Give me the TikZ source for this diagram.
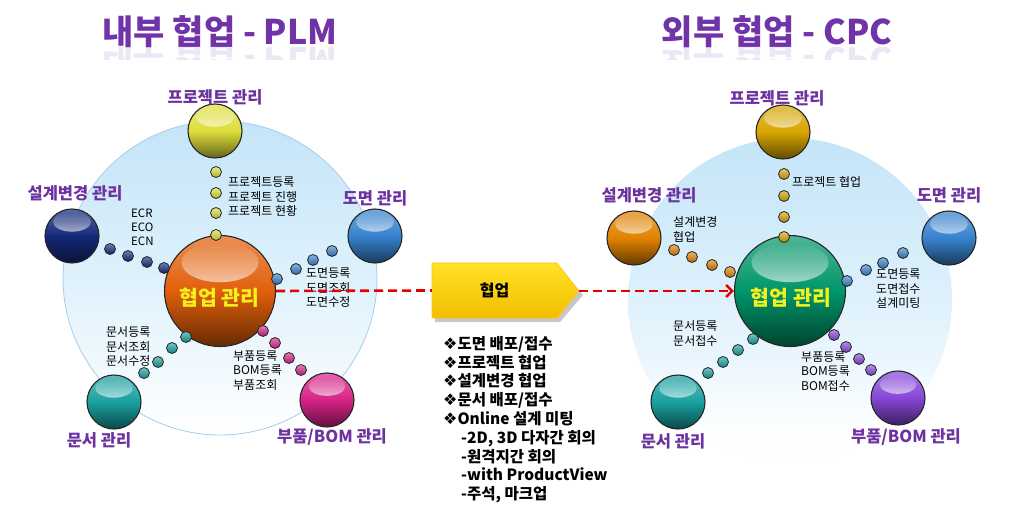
\documentclass[tikz,border=0pt]{standalone}
\usepackage{fontspec}
\setmainfont{Noto Sans CJK KR}
\newfontfamily\symf{DejaVu Sans}
\usetikzlibrary{arrows.meta,fadings,calc}
\definecolor{ttl}{RGB}{112,52,168}
\definecolor{lblc}{RGB}{110,50,160}
\definecolor{bgtop}{RGB}{196,229,248}
\definecolor{bgmid}{RGB}{222,241,252}
\definecolor{bgline}{RGB}{165,205,235}
\definecolor{cYel}{RGB}{222,222,60}
\definecolor{cNavy}{RGB}{20,40,120}
\definecolor{cBlue}{RGB}{55,130,205}
\definecolor{cOrg}{RGB}{225,95,10}
\definecolor{cTeal}{RGB}{25,160,160}
\definecolor{cPink}{RGB}{215,35,135}
\definecolor{cGold}{RGB}{215,165,0}
\definecolor{cOrg2}{RGB}{225,130,0}
\definecolor{cGreen}{RGB}{0,150,105}
\definecolor{cPurp}{RGB}{135,70,215}
\definecolor{gold1}{RGB}{255,226,40}
\definecolor{gold2}{RGB}{242,190,0}
\definecolor{cenTxt}{RGB}{245,240,30}
\newcommand\hilite[2]{\fill[white,opacity=.6,path fading=north] ($(#1.center)+(0,{-0.52*#2})$) ellipse [x radius={0.7*#2}, y radius={0.36*#2}];}
\newcommand\bul{{\symf\fontsize{16}{16}\selectfont ❖}}
\begin{document}
\begin{tikzpicture}[x=1pt,y=-1pt,
  ball/.style={circle, draw=black!85, line width=1.1pt, inner sep=0, minimum size=54pt,
     top color=#1!70!white, bottom color=#1!45!black, middle color=#1},
  cball/.style={ball=#1, minimum size=111pt},
  dot/.style={circle, draw=black!85, line width=0.8pt, inner sep=0, minimum size=11pt,
     top color=#1!60!white, bottom color=#1!80!black},
  lbl/.style={font=\bfseries\fontsize{16.5}{19}\selectfont, text=lblc, inner sep=0},
  ttlst/.style={font=\bfseries\fontsize{34}{36}\selectfont, text=ttl, inner sep=0},
  sm/.style={font=\fontsize{12}{14.6}\selectfont, align=left, anchor=north west, inner sep=0},
  cen/.style={font=\bfseries\fontsize{20.5}{22}\selectfont, text=cenTxt, inner sep=0},
  rdash/.style={draw=red!90!black, line width=2.6pt, dash pattern=on 9pt off 5pt}]
\useasboundingbox (0,0) rectangle (1024,510);
\fill[white] (0,0) rectangle (1024,510);

% titles
\node[ttlst] (t1) at (220,32) {내부 협업 - PLM};
\node[ttlst] (t2) at (777,32) {외부 협업 - CPC};
\begin{scope}
\clip (60,48) rectangle (980,60);
\node[ttlst, opacity=.12] (t1r) at (220,60) {\scalebox{1}[-1]{내부 협업 - PLM}};
\node[ttlst, opacity=.12] (t2r) at (777,60) {\scalebox{1}[-1]{외부 협업 - CPC}};
\end{scope}

% background circles
\shade[top color=bgtop, bottom color=white, middle color=bgmid] (220,278) circle (157);
\draw[bgline, line width=0.8pt] (220,278) circle (157);
\shade[top color=bgtop, bottom color=white, middle color=bgmid] (790,300) circle (162);
\fill[white, path fading=north] (620,360) rectangle (960,470);

% ---------------- left diagram ----------------
\node[ball=cYel] (lp) at (215,131) {};
\node[ball=cNavy] (lc) at (72,236) {};
\node[ball=cBlue] (ld) at (375,236) {};
\node[ball=cTeal] (lm) at (114,402) {};
\node[ball=cPink] (lb) at (327,400) {};
\node[cball=cOrg] (lcen) at (220,291) {};
\foreach \n/\r in {lp/27,lc/27,ld/27,lm/27,lb/26,lcen/55} {\hilite{\n}{\r}}
\node[cen] (lcent) at (219.5,298) {협업 관리};

\node[lbl] (lpl) at (215,97) {프로젝트 관리};
\node[lbl] (lcl) at (75,193) {설계변경 관리};
\node[lbl] (ldl) at (375,198) {도면 관리};
\node[lbl] (lml) at (99,440) {문서 관리};
\node[lbl] (lbl1) at (332,437) {부품/BOM 관리};

\foreach \p [count=\i] in {(216,172),(216,193),(216,213),(216,235)} \node[dot=cYel] (ly\i) at \p {};
\foreach \p [count=\i] in {(110,249),(128,256),(147,262),(164,268)} \node[dot=cNavy] (ln\i) at \p {};
\foreach \p [count=\i] in {(277,279),(296,269),(313,260),(332,251)} \node[dot=cBlue] (lbd\i) at \p {};
\foreach \p [count=\i] in {(186,337),(172,348),(158,362),(144,373)} \node[dot=cTeal] (lt\i) at \p {};
\foreach \p [count=\i] in {(263,331),(275,343),(289,358),(301,370)} \node[dot=cPink] (lk\i) at \p {};

\node[sm] (lpt) at (228,176.5) {프로젝트등록\\프로젝트 진행\\프로젝트 현황};
\node[sm, font=\fontsize{11.5}{14}\selectfont] (lct) at (131,208.5) {ECR\\ECO\\ECN};
\node[sm] (ldt) at (306,267.5) {도면등록\\도면조회\\도면수정};
\node[sm] (lmt) at (106,326.5) {문서등록\\문서조회\\문서수정};
\node[sm] (lbt) at (233,350.5) {부품등록\\BOM등록\\부품조회};

% ---------------- middle ----------------
\fill[black, opacity=.22] (435,268) -- (560,268) -- (583,295) -- (560,322) -- (435,322) -- cycle;
\shade[top color=gold1, bottom color=gold2, draw=gold1!70!orange, line width=0.6pt]
  (432,263) -- (557,263) -- (579,291) -- (557,318) -- (432,318) -- cycle;
\node[font=\bfseries\fontsize{16}{18}\selectfont, inner sep=0, minimum width=125pt, minimum height=55pt] (chev) at (494.5,290.5) {협업};
\coordinate (tip) at (579,291);

\draw[rdash] (lcen.east) -- (chev.west);

\node[anchor=north west, align=left, inner sep=0, font=\bfseries\fontsize{15.5}{18.8}\selectfont] (list) at (443,336)
{\bul 도면 배포/접수\\
\bul 프로젝트 협업\\
\bul 설계변경 협업\\
\bul 문서 배포/접수\\
\bul Online 설계 미팅\\
\hspace*{18pt}-2D, 3D 다자간 회의\\
\hspace*{18pt}-원격지간 회의\\
\hspace*{18pt}-with ProductView\\
\hspace*{18pt}-주석, 마크업};

% ---------------- right diagram ----------------
\node[ball=cGold] (rp) at (783,132) {};
\node[ball=cOrg2] (rc) at (634,238) {};
\node[ball=cBlue] (rd) at (949,238) {};
\node[ball=cTeal] (rm) at (678,402) {};
\node[ball=cPurp] (rb) at (898,398) {};
\node[cball=cGreen] (rcen) at (790,291) {};
\foreach \n/\r in {rp/27,rc/27,rd/27,rm/27,rb/26,rcen/55} {\hilite{\n}{\r}}
\node[cen] (rcent) at (791,298) {협업 관리};

\draw[rdash, -{Straight Barb[length=6pt,width=12pt,line width=2.6pt]}] (tip) -- (rcen.west);

\node[lbl] (rpl) at (777,98) {프로젝트 관리};
\node[lbl] (rcl) at (649,195) {설계변경 관리};
\node[lbl] (rdl) at (949,195) {도면 관리};
\node[lbl] (rml) at (673,441) {문서 관리};
\node[lbl] (rbl) at (906,437) {부품/BOM 관리};

\foreach \p [count=\i] in {(784,174),(784,196),(784,217),(784,237)} \node[dot=cGold] (ry\i) at \p {};
\foreach \p [count=\i] in {(674,250),(692,257),(712,265),(730,272)} \node[dot=cOrg2] (ro\i) at \p {};
\foreach \p [count=\i] in {(847,281),(866,270),(883,263),(903,253)} \node[dot=cBlue] (rbd\i) at \p {};
\foreach \p [count=\i] in {(753,339),(738,350),(723,362),(708,373)} \node[dot=cTeal] (rt\i) at \p {};
\foreach \p [count=\i] in {(834,335),(846,347),(859,359),(871,370)} \node[dot=cPurp] (rk\i) at \p {};

\node[sm] (rpt) at (792,176.5) {프로젝트 협업};
\node[sm] (rct) at (673,216.5) {설계변경\\협업};
\node[sm] (rdt) at (876,268.5) {도면등록\\도면접수\\설계미팅};
\node[sm] (rmt) at (673,320.5) {문서등록\\문서접수};
\node[sm] (rbt) at (801,351.5) {부품등록\\BOM등록\\BOM접수};
\end{tikzpicture}
\end{document}
